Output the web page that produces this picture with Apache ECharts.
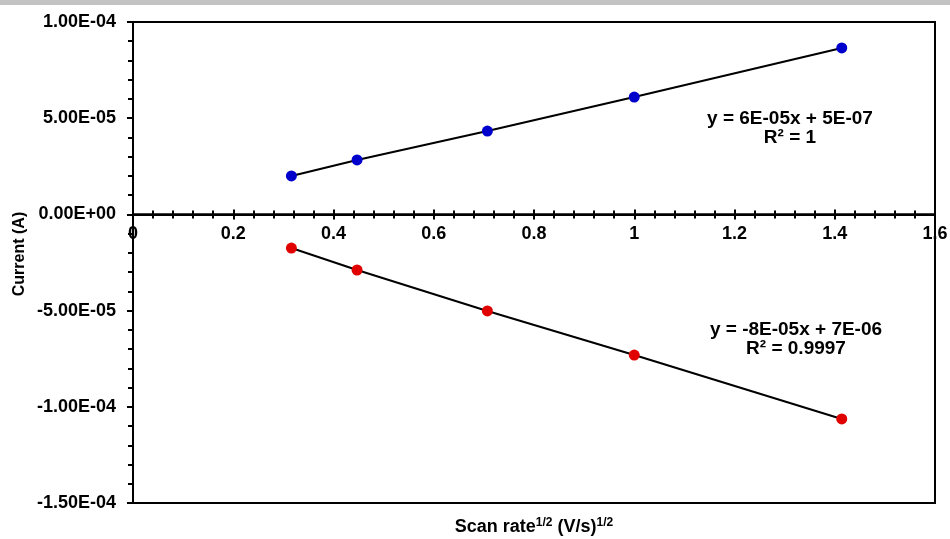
<!DOCTYPE html>
<html><head><meta charset="utf-8">
<script src="https://cdn.jsdelivr.net/npm/echarts@6/dist/echarts.min.js"></script>
<style>html,body{margin:0;padding:0;background:#fff}#topbar{position:absolute;left:0;top:0;width:950px;height:5px;background:#c3c3c3}#c{width:950px;height:539px}</style>
</head><body><div id="topbar"></div><div id="c"></div>
<script>
const scanRateSqrt = [0.316, 0.447, 0.707, 1.0, 1.414];
const anodicCurrent = [2.0e-5, 2.83e-5, 4.33e-5, 6.1e-5, 8.65e-5];
const cathodicCurrent = [-1.75e-5, -2.89e-5, -5.02e-5, -7.31e-5, -1.063e-4];
const yTickLabels = {"1e-4":"1.00E-04","5e-5":"5.00E-05","0":"0.00E+00","-5e-5":"-5.00E-05","-1e-4":"-1.00E-04","-1.5e-4":"-1.50E-04"};
const xTickLabels = {"0":"0","0.2":"0.2","0.4":"0.4","0.6":"0.6","0.8":"0.8","1":"1","1.2":"1.2","1.4":"1.4","1.6":"1.6"};
const anodicFit = ["y = 6E-05x + 5E-07", "R² = 1"];
const cathodicFit = ["y = -8E-05x + 7E-06", "R² = 0.9997"];

function lookup(table, v){
  for (const k of Object.keys(table)){ if (Math.abs(parseFloat(k)-v) < 1e-9) return table[k]; }
  return '';
}
const font = 'Liberation Sans, Arial, sans-serif';
const FS = 18;
const blk = {color:'#000', width:2};
const chart = echarts.init(document.getElementById('c'));
// two stacked grids sharing the zero line: top for positive currents, bottom for negative
const H = 481, topPx = 22, zeroPx = topPx + H * (1e-4 / 2.5e-4);
const common = {
  type:'value', min:0, max:1.6, interval:0.2,
  axisLine:{onZero:false, lineStyle:blk}, splitLine:{show:false}
};
chart.setOption({
  animation:false,
  grid:[
    {left:133, top:topPx, right:15, height:zeroPx-topPx, show:true, borderColor:'#000', borderWidth:2,
     backgroundColor:'transparent', containLabel:false, outerBoundsMode:'none'},
    {left:133, top:zeroPx, right:15, bottom:36, show:true, borderColor:'#000', borderWidth:2,
     backgroundColor:'transparent', containLabel:false, outerBoundsMode:'none'}
  ],
  xAxis:[
    Object.assign({}, common, {gridIndex:0, position:'bottom',
      axisTick:{show:true, inside:true, length:5, lineStyle:blk},
      minorTick:{show:true, splitNumber:5, length:4, lineStyle:blk},
      axisLabel:{show:false}}),
    Object.assign({}, common, {gridIndex:1, position:'top',
      axisTick:{show:true, inside:true, length:5, lineStyle:blk},
      minorTick:{show:true, splitNumber:5, length:4, lineStyle:blk},
      axisLabel:{show:true, inside:true, color:'#000', fontWeight:'bold', fontSize:FS, fontFamily:font, margin:11,
        formatter:v => lookup(xTickLabels, v)}})
  ],
  yAxis:[
    {type:'value', gridIndex:0, min:0, max:1e-4, interval:5e-5,
     axisLine:{show:true, onZero:false, lineStyle:blk},
     axisTick:{show:true, length:6, lineStyle:blk},
     minorTick:{show:true, splitNumber:5, length:5, lineStyle:blk},
     splitLine:{show:false},
     axisLabel:{color:'#000', fontWeight:'bold', fontSize:FS, fontFamily:font, margin:17, formatter:v => lookup(yTickLabels, v)}},
    {type:'value', gridIndex:1, min:-1.5e-4, max:0, interval:5e-5,
     axisLine:{show:true, onZero:false, lineStyle:blk},
     axisTick:{show:true, length:6, lineStyle:blk},
     minorTick:{show:true, splitNumber:5, length:5, lineStyle:blk},
     splitLine:{show:false},
     axisLabel:{color:'#000', fontWeight:'bold', fontSize:FS, fontFamily:font, margin:17, showMaxLabel:false,
       formatter:v => (Math.abs(v) < 1e-12 ? '' : lookup(yTickLabels, v))}}
  ],
  series:[
    {type:'line', xAxisIndex:0, yAxisIndex:0, data:scanRateSqrt.map((x,i)=>[x, anodicCurrent[i]]),
      symbol:'circle', symbolSize:11, itemStyle:{color:'#0000cc'},
      lineStyle:{color:'#000', width:2}, z:3},
    {type:'line', xAxisIndex:1, yAxisIndex:1, data:scanRateSqrt.map((x,i)=>[x, cathodicCurrent[i]]),
      symbol:'circle', symbolSize:11, itemStyle:{color:'#e00000'},
      lineStyle:{color:'#000', width:2}, z:3}
  ],
  graphic:[
    {type:'text', x:790, y:119, style:{text:anodicFit[0], align:'center', verticalAlign:'middle', font:'bold 19px '+font, fill:'#000'}},
    {type:'text', x:790, y:138, style:{text:anodicFit[1], align:'center', verticalAlign:'middle', font:'bold 19px '+font, fill:'#000'}},
    {type:'text', x:796, y:330, style:{text:cathodicFit[0], align:'center', verticalAlign:'middle', font:'bold 19px '+font, fill:'#000'}},
    {type:'text', x:796, y:349, style:{text:cathodicFit[1], align:'center', verticalAlign:'middle', font:'bold 19px '+font, fill:'#000'}},
    {type:'text', x:20, y:254, rotation:Math.PI/2, style:{text:'Current (A)', align:'center', verticalAlign:'middle', font:'bold 16px '+font, fill:'#000'}},
    {type:'text', x:534, y:527, style:{text:'Scan rate{s|1/2} (V/s){s|1/2}', align:'center', verticalAlign:'middle', font:'bold 18px '+font, fill:'#000',
      rich:{s:{font:'bold 12px '+font, fill:'#000', verticalAlign:'top', padding:[0,0,8,0]}}}}
  ]
});
</script></body></html>
